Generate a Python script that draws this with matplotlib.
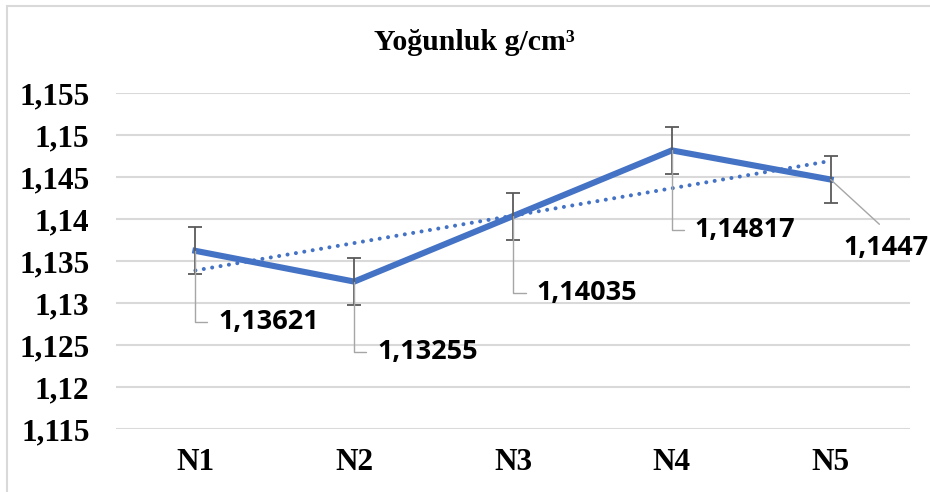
import numpy as np
import matplotlib
matplotlib.use('Agg')
import matplotlib.pyplot as plt
from matplotlib.patches import Rectangle

samples = ['N1', 'N2', 'N3', 'N4', 'N5']
density = [1.13621, 1.13255, 1.14035, 1.14817, 1.1447]
err = [0.0028, 0.0028, 0.0028, 0.0028, 0.0028]
yticks = [1.115, 1.12, 1.125, 1.13, 1.135, 1.14, 1.145, 1.15, 1.155]
title = 'Yoğunluk g/cm³'

blue = '#4472C4'
grid_c = '#D9D9D9'
serif = 'Liberation Serif'
sans = 'Open Sans'


def comma(v):
    return f'{v:g}'.replace('.', ',')


fig = plt.figure(figsize=(9.3, 4.92), dpi=100)
ax = fig.add_axes([116 / 930, 1 - 429 / 492, 794 / 930, 336 / 492])

x = np.arange(len(samples))

# linear trend line (dotted)
p = np.polyfit(x, density, 1)
ax.plot(x, np.polyval(p, x), color=blue, lw=2.9, linestyle=(0, (0.01, 2.1)),
        dash_capstyle='round', zorder=3)

ax.plot(x, density, color=blue, lw=4.4, solid_joinstyle='miter', zorder=4)
ax.errorbar(x, density, yerr=err, fmt='none', ecolor='#5A5A5A', elinewidth=1.3,
            capsize=5, capthick=1.3, zorder=5)

# data labels with leader lines (offsets in points)
offsets = [(16.5, -51), (16.5, -50.5), (17, -55.5), (16.5, -57.5), (9.5, -49)]
for i, (v, off) in enumerate(zip(density, offsets)):
    if i < 4:
        ap = dict(arrowstyle='-', color='#A6A6A6', lw=1.0, relpos=(0, 0.5),
                  connectionstyle='angle,angleA=0,angleB=90,rad=0',
                  shrinkA=6, shrinkB=0)
    else:
        ap = dict(arrowstyle='-', color='#A6A6A6', lw=1.0, relpos=(0.55, 1.0),
                  connectionstyle='arc3', shrinkA=8, shrinkB=0)
    ax.annotate(comma(v), xy=(i, v), xytext=off, textcoords='offset points',
                ha='left', va='center', fontsize=19.5, fontweight='bold',
                family=sans, color='black', arrowprops=ap, zorder=6,
                annotation_clip=False)

ax.set_xlim(-0.5, len(samples) - 0.5)
ax.set_ylim(yticks[0], yticks[-1])
ax.set_yticks(yticks)
ax.set_yticklabels([comma(t) for t in yticks])
ax.set_xticks(x)
ax.set_xticklabels(samples)
ax.tick_params(length=0)
ax.tick_params(axis='y', pad=19)
ax.tick_params(axis='x', pad=14)
for lab in ax.get_yticklabels() + ax.get_xticklabels():
    lab.set_fontfamily(serif)
    lab.set_fontweight('bold')
    lab.set_fontsize(22.5)
ax.grid(axis='y', color=grid_c, lw=1.5)
ax.set_axisbelow(True)
for s in ax.spines.values():
    s.set_visible(False)

fig.text(474 / 930, 1 - 43 / 492, title, ha='center', va='center',
         fontsize=21.5, fontweight='bold', family=serif)

fig.patches.append(Rectangle((7 / 930, -0.1), 1.2, 1 - 6 / 492 + 0.1,
                             transform=fig.transFigure, fill=False,
                             edgecolor=grid_c, lw=1.5))

fig.savefig('out.png', dpi=100)
